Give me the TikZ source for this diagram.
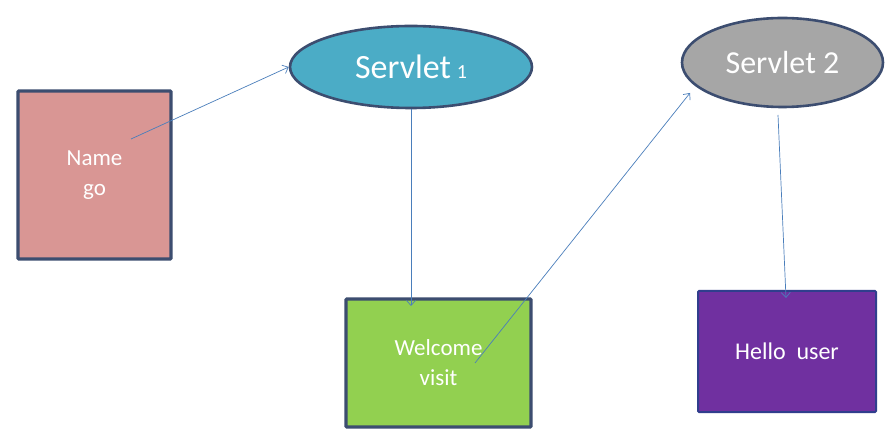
\documentclass[tikz,border=0pt]{standalone}
\usepackage{fontspec}
\setmainfont{Carlito}
\usetikzlibrary{
  shapes.geometric,
  arrows.meta,
}
\definecolor{boxline}{HTML}{3C4D70}
\definecolor{namefill}{HTML}{D99694}
\definecolor{servletblue}{HTML}{4BACC6}
\definecolor{servletgray}{HTML}{A6A6A6}
\definecolor{welcomefill}{HTML}{92D050}
\definecolor{hellofill}{HTML}{7030A0}
\definecolor{linkblue}{HTML}{4A7EBB}
\tikzset{
  page/.style={
    rectangle,
    rounded corners=1pt,
    text centered,
    text=white,
    draw=boxline,
    line width=3.2pt,
    font=\fontsize{23}{30}\selectfont,
  },
  servlet/.style={
    ellipse,
    inner sep=0pt,
    text centered,
    text=white,
    draw=boxline,
    line width=2.6pt,
    font=\fontsize{34}{36}\selectfont,
  },
  link/.style={
    draw=linkblue,
    line width=0.7pt,
    -{Straight Barb[length=5pt,width=9pt]},
  },
}

\begin{document}
\begin{tikzpicture}[
    x=1pt, y=-1pt,
  ]

  \fill[white] (0,0) rectangle (893,435);
  \useasboundingbox (0,0) rectangle (893,435);

  % Pages
  \node (name_box) [page, fill=namefill,
    minimum width=153pt, minimum height=168pt,
    align=center] at (94.5,175) {Name\\go};
  \node (welcome) [page, fill=welcomefill,
    minimum width=185pt, minimum height=128pt,
    align=center] at (438.5,363) {Welcome\\visit};
  \node (hello) [page, fill=hellofill,
    draw=boxline!80!blue, line width=2pt,
    minimum width=178pt, minimum height=121pt,
    font=\fontsize{24}{29}\selectfont] at (787,351.5) {Hello\ \ user};

  % Servlets
  \node (servlet_one) [servlet, fill=servletblue,
    minimum width=242pt, minimum height=82pt] at (411,67)
    {Servlet\,{\fontsize{20}{24}\selectfont 1}};
  \node (servlet_two) [servlet, fill=servletgray,
    minimum width=201pt, minimum height=89pt] at (782.5,62.5)
    {\fontsize{32}{36}\selectfont Servlet 2};

  % Loose ends
  \coordinate (name_start) at (131,139);
  \coordinate (welcome_in) at (411,306);
  \coordinate (welcome_start) at (475,363);
  \coordinate (servlet_two_end) at (690,93);
  \coordinate (servlet_two_start) at (778,115);
  \coordinate (hello_in) at (786,298);

  % Arrows
  \draw [link] (name_start) to (servlet_one.west);
  \draw [link] (servlet_one.south) to (welcome_in);
  \draw [link] (welcome_start) to (servlet_two_end);
  \draw [link] (servlet_two_start) to (hello_in);

\end{tikzpicture}
\end{document}
